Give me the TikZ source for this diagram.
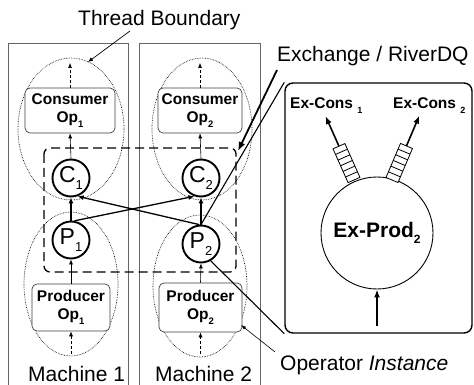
\documentclass[tikz,border=0pt]{standalone}
\usepackage{fontspec}
\setmainfont{Liberation Sans}
\usetikzlibrary{arrows.meta}
\newcommand{\sbx}[2]{\raisebox{-0.28em}{\fontsize{#1}{#1}\selectfont #2}}
\begin{document}
\begin{tikzpicture}[x=1pt,y=-1pt,
  big/.style={font=\fontsize{21}{24}\selectfont, inner sep=0pt},
  opbox/.style={draw=black!75, fill=white, line width=0.7pt, rounded corners=5pt, align=center,
    font=\fontsize{15.5}{18}\selectfont\bfseries, inner sep=0pt},
  circ/.style={circle, draw, fill=white, line width=1.9pt, minimum size=37pt, inner sep=0pt,
    font=\fontsize{23}{23}\selectfont},
  thread/.style={densely dotted, line width=0.65pt},
  machine/.style={draw=black!60, line width=0.9pt},
  flow/.style={-{Latex[length=5pt,width=4pt]}, line width=0.6pt},
  dflow/.style={flow, dash pattern=on 3pt off 2pt},
  xflow/.style={-{Latex[length=6pt,width=5pt]}, line width=1.3pt},
  queue/.style={line width=0.8pt, fill=white},
  qarrow/.style={line width=1.6pt, -{Latex[length=8pt,width=6pt]}}]
\useasboundingbox (0,0) rectangle (474,385);

% machines
\draw[machine] (8,385) -- (8,43) -- (128,43) -- (128,385);
\draw[machine] (139,385) -- (139,43) -- (260,43) -- (260,385);

% thread boundaries
\draw[thread] (71,129) ellipse [x radius=53, y radius=71];
\draw[thread] (71,284) ellipse [x radius=47, y radius=72];
\draw[thread] (202,129) ellipse [x radius=50, y radius=71];
\draw[thread] (200,286) ellipse [x radius=47, y radius=71];

% exchange region
\draw[line width=1.3pt, dash pattern=on 9pt off 5pt, rounded corners=6pt] (44,148) rectangle (236,272);

% operators
\node[opbox, minimum width=90pt, minimum height=45pt] (cons1) at (70,110.5) {Consumer\\Op\sbx{9.5}{1}};
\node[opbox, minimum width=84pt, minimum height=45pt] (cons2) at (200,110.5) {Consumer\\Op\sbx{9.5}{2}};
\node[opbox, minimum width=78pt, minimum height=47pt] (prod1) at (71,307.5) {Producer\\Op\sbx{9.5}{1}};
\node[opbox, minimum width=83pt, minimum height=49pt] (prod2) at (200.5,307.5) {Producer\\Op\sbx{9.5}{2}};

\node[circ] (C1) at (71,178) {C\sbx{13}{1}};
\node[circ] (C2) at (201,178) {C\sbx{13}{2}};
\node[circ] (P1) at (71,240) {P\sbx{13}{1}};
\node[circ] (P2) at (201,244) {P\sbx{13}{2}};

% flows
\coordinate (out1) at (70,63);
\coordinate (out2) at (200,63);
\coordinate (in1) at (71,354);
\coordinate (in2) at (200.5,354);
\draw[dflow] (cons1.north) -- (out1);
\draw[dflow] (cons2.north) -- (out2);
\draw[dflow] (in1) -- (prod1.south);
\draw[dflow] (in2) -- (prod2.south);
\draw[flow] (C1.north) -- (cons1.south);
\draw[flow] (C2.north) -- (cons2.south);
\draw[flow] (prod1.north) -- (P1.south);
\draw[flow] (prod2.north) -- (P2.south);
\draw[xflow] (P1.north) -- (C1.south);
\draw[xflow] (P2.north) -- (C2.south);
\draw[xflow] (P1.80) -- (C2.250);
\draw[xflow] (P2.95) -- (C1.290);

% exploded exchange
\node[draw, fill=white, line width=1.4pt, rounded corners=8pt, minimum width=187pt, minimum height=250pt, inner sep=0pt] (exbox) at (378.5,208) {};
\draw[line width=1.1pt] (P2.north) -- (exbox.north west);
\draw[line width=1.1pt] (P2.-60) -- (exbox.south west);

\node[circle, draw, line width=0.9pt, minimum size=112pt, inner sep=0pt,
  font=\fontsize{21}{21}\selectfont\bfseries] (exprod) at (377,233) {Ex-Prod\sbx{12}{2}};
\coordinate (exin) at (377,326);
\draw[line width=1.8pt, -{Latex[length=8pt,width=6pt]}] (exin) -- (exprod.south);

\begin{scope}[shift={(354,180)}, rotate=114]
  \draw[queue] (0,-6.5) rectangle (37,6.5);
  \foreach \i in {1,...,5} \draw[line width=0.8pt] (37*\i/6,-6.5) -- (37*\i/6,6.5);
  \coordinate (q1) at (37,0);
  \coordinate (q1tip) at (70,0);
  \draw[qarrow] (q1) -- (q1tip);
\end{scope}
\begin{scope}[shift={(392,180)}, rotate=67]
  \draw[queue] (0,-6.5) rectangle (37,6.5);
  \foreach \i in {1,...,5} \draw[line width=0.8pt] (37*\i/6,-6.5) -- (37*\i/6,6.5);
  \coordinate (q2) at (37,0);
  \coordinate (q2tip) at (70,0);
  \draw[qarrow] (q2) -- (q2tip);
\end{scope}

\node[anchor=base west, inner sep=0pt, font=\fontsize{15.5}{18}\selectfont\bfseries] (excons1) at (290,109) {Ex-Cons \sbx{9}{1}};
\node[anchor=base west, inner sep=0pt, font=\fontsize{15.5}{18}\selectfont\bfseries] (excons2) at (393,109) {Ex-Cons \sbx{9}{2}};

% labels
\node[big, anchor=base west] (thread) at (78,26) {Thread Boundary};
\coordinate (threadfrom) at (130,31);
\coordinate (threadtip) at (88,62);
\draw[line width=0.7pt, -{Latex[length=5pt,width=4pt]}] (threadfrom) -- (threadtip);

\node[big, anchor=base west] (exch) at (277,62) {Exchange / RiverDQ};
\coordinate (exchfrom) at (277,70);
\coordinate (exchtip) at (238,151);
\draw[line width=1.8pt, -{Latex[length=9pt,width=7pt]}] (exchfrom) -- (exchtip);

\node[big, anchor=base west] (opinst) at (280,370) {Operator \textit{Instance}};
\coordinate (opfrom) at (275,352);
\coordinate (optip) at (241,325);
\draw[line width=0.6pt, -{Latex[length=5pt,width=3.5pt]}] (opfrom) -- (optip);

\node[big, anchor=base west] (m1) at (28,381) {Machine 1};
\node[big, anchor=base west] (m2) at (155,381) {Machine 2};
\end{tikzpicture}
\end{document}
